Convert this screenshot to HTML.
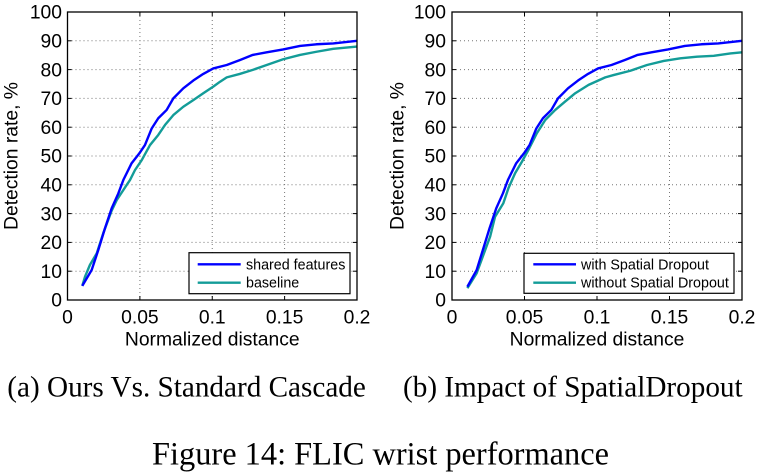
<!DOCTYPE html>
<html><head><meta charset="utf-8"><style>
html,body{margin:0;padding:0;background:#fff;}
svg{display:block;}
.t{font-family:"Liberation Sans",Arial,sans-serif;font-size:19.3px;fill:#000;}
.lg{font-family:"Liberation Sans",Arial,sans-serif;font-size:14.3px;fill:#000;}
.cap{font-family:"Liberation Serif","Times New Roman",serif;fill:#000;}
.grid{stroke:#777;stroke-width:1;stroke-dasharray:1 3;fill:none;}
.ax{stroke:#000;stroke-width:1.3;fill:none;}
.bl{stroke:#0000ff;stroke-width:2.4;fill:none;stroke-linejoin:round;vector-effect:non-scaling-stroke;}
.tl{stroke:#139c98;stroke-width:2.4;fill:none;stroke-linejoin:round;vector-effect:non-scaling-stroke;}
</style></head><body>
<svg width="758" height="473" viewBox="0 0 758 473" xmlns="http://www.w3.org/2000/svg">
<!-- LEFT PLOT -->
<g>
<g class="grid">
<line x1="139.9" y1="12" x2="139.9" y2="300"/><line x1="212.25" y1="12" x2="212.25" y2="300"/><line x1="284.6" y1="12" x2="284.6" y2="300"/>
<line x1="67.5" y1="271.2" x2="357" y2="271.2"/><line x1="67.5" y1="242.4" x2="357" y2="242.4"/><line x1="67.5" y1="213.6" x2="357" y2="213.6"/>
<line x1="67.5" y1="184.8" x2="357" y2="184.8"/><line x1="67.5" y1="156" x2="357" y2="156"/><line x1="67.5" y1="127.2" x2="357" y2="127.2"/>
<line x1="67.5" y1="98.4" x2="357" y2="98.4"/><line x1="67.5" y1="69.6" x2="357" y2="69.6"/><line x1="67.5" y1="40.8" x2="357" y2="40.8"/>
</g>
<g stroke="#000" stroke-width="1">
<line x1="139.9" y1="300" x2="139.9" y2="296"/><line x1="212.25" y1="300" x2="212.25" y2="296"/><line x1="284.6" y1="300" x2="284.6" y2="296"/>
<line x1="139.9" y1="12" x2="139.9" y2="16"/><line x1="212.25" y1="12" x2="212.25" y2="16"/><line x1="284.6" y1="12" x2="284.6" y2="16"/>
<line x1="67.5" y1="271.2" x2="71.5" y2="271.2"/><line x1="67.5" y1="242.4" x2="71.5" y2="242.4"/><line x1="67.5" y1="213.6" x2="71.5" y2="213.6"/><line x1="67.5" y1="184.8" x2="71.5" y2="184.8"/><line x1="67.5" y1="156" x2="71.5" y2="156"/><line x1="67.5" y1="127.2" x2="71.5" y2="127.2"/><line x1="67.5" y1="98.4" x2="71.5" y2="98.4"/><line x1="67.5" y1="69.6" x2="71.5" y2="69.6"/><line x1="67.5" y1="40.8" x2="71.5" y2="40.8"/>
<line x1="357" y1="271.2" x2="353" y2="271.2"/><line x1="357" y1="242.4" x2="353" y2="242.4"/><line x1="357" y1="213.6" x2="353" y2="213.6"/><line x1="357" y1="184.8" x2="353" y2="184.8"/><line x1="357" y1="156" x2="353" y2="156"/><line x1="357" y1="127.2" x2="353" y2="127.2"/><line x1="357" y1="98.4" x2="353" y2="98.4"/><line x1="357" y1="69.6" x2="353" y2="69.6"/><line x1="357" y1="40.8" x2="353" y2="40.8"/>
</g>
<g transform="translate(67.5,300) scale(1447.5,-2.88)">
<polyline class="tl" points="0.0102,4.9 0.0121,8.1 0.0155,12.2 0.0202,16.2 0.0247,23.2 0.0305,31 0.034,34.7 0.0386,38.2 0.0432,41.7 0.0466,45.1 0.0513,48.6 0.057,53.8 0.0627,57.3 0.0674,60.8 0.0731,64.2 0.08,67.1 0.0869,69.4 0.0938,71.8 0.1007,74.1 0.1054,75.8 0.11,77.3 0.119,78.5 0.128,79.9 0.1376,81.6 0.149,83.6 0.1606,85.1 0.172,86.2 0.1836,87.2 0.2,88"/>
<polyline class="bl" points="0.0102,4.9 0.0167,10.4 0.0213,17.4 0.0259,24.9 0.0305,31.8 0.0351,37 0.0386,41.7 0.0443,47.5 0.0496,50.9 0.0535,53.8 0.0582,59.6 0.0627,63.1 0.0685,66 0.0731,70 0.08,73.5 0.0869,76.2 0.0938,78.5 0.1007,80.4 0.11,81.6 0.119,83.3 0.128,85.1 0.1376,86 0.149,87 0.1606,88.2 0.172,88.8 0.1836,89.1 0.2,90"/>
</g>
<rect class="ax" x="67.5" y="12" width="289.5" height="288"/>
<g class="t" text-anchor="end">
<text x="62" y="306.7">0</text><text x="62" y="277.9">10</text><text x="62" y="249.1">20</text><text x="62" y="220.3">30</text><text x="62" y="191.5">40</text><text x="62" y="162.7">50</text><text x="62" y="133.9">60</text><text x="62" y="105.1">70</text><text x="62" y="76.3">80</text><text x="62" y="47.5">90</text><text x="62" y="18.7">100</text>
</g>
<g class="t" text-anchor="middle">
<text x="67.5" y="323.5">0</text><text x="139.9" y="323.5">0.05</text><text x="212.25" y="323.5">0.1</text><text x="284.6" y="323.5">0.15</text><text x="357" y="323.5">0.2</text>
<text x="212.25" y="345.3">Normalized distance</text>
<text transform="translate(17.7,156) rotate(-90)">Detection rate, %</text>
</g>
<rect x="189" y="252.7" width="161" height="41" fill="#fff" stroke="#000" stroke-width="1.2"/>
<line x1="197.7" y1="264.3" x2="240.7" y2="264.3" stroke="#0000ff" stroke-width="2.4"/>
<line x1="197.7" y1="282.7" x2="240.7" y2="282.7" stroke="#139c98" stroke-width="2.4"/>
<text class="lg" x="246" y="269.3">shared features</text>
<text class="lg" x="246" y="287.7">baseline</text>
</g>

<!-- RIGHT PLOT -->
<g>
<g class="grid">
<line x1="524.5" y1="12" x2="524.5" y2="300"/><line x1="597" y1="12" x2="597" y2="300"/><line x1="669.5" y1="12" x2="669.5" y2="300"/>
<line x1="452" y1="271.2" x2="742" y2="271.2"/><line x1="452" y1="242.4" x2="742" y2="242.4"/><line x1="452" y1="213.6" x2="742" y2="213.6"/>
<line x1="452" y1="184.8" x2="742" y2="184.8"/><line x1="452" y1="156" x2="742" y2="156"/><line x1="452" y1="127.2" x2="742" y2="127.2"/>
<line x1="452" y1="98.4" x2="742" y2="98.4"/><line x1="452" y1="69.6" x2="742" y2="69.6"/><line x1="452" y1="40.8" x2="742" y2="40.8"/>
</g>
<g stroke="#000" stroke-width="1">
<line x1="524.5" y1="300" x2="524.5" y2="296"/><line x1="597" y1="300" x2="597" y2="296"/><line x1="669.5" y1="300" x2="669.5" y2="296"/>
<line x1="524.5" y1="12" x2="524.5" y2="16"/><line x1="597" y1="12" x2="597" y2="16"/><line x1="669.5" y1="12" x2="669.5" y2="16"/>
<line x1="452" y1="271.2" x2="456" y2="271.2"/><line x1="452" y1="242.4" x2="456" y2="242.4"/><line x1="452" y1="213.6" x2="456" y2="213.6"/><line x1="452" y1="184.8" x2="456" y2="184.8"/><line x1="452" y1="156" x2="456" y2="156"/><line x1="452" y1="127.2" x2="456" y2="127.2"/><line x1="452" y1="98.4" x2="456" y2="98.4"/><line x1="452" y1="69.6" x2="456" y2="69.6"/><line x1="452" y1="40.8" x2="456" y2="40.8"/>
<line x1="742" y1="271.2" x2="738" y2="271.2"/><line x1="742" y1="242.4" x2="738" y2="242.4"/><line x1="742" y1="213.6" x2="738" y2="213.6"/><line x1="742" y1="184.8" x2="738" y2="184.8"/><line x1="742" y1="156" x2="738" y2="156"/><line x1="742" y1="127.2" x2="738" y2="127.2"/><line x1="742" y1="98.4" x2="738" y2="98.4"/><line x1="742" y1="69.6" x2="738" y2="69.6"/><line x1="742" y1="40.8" x2="738" y2="40.8"/>
</g>
<g transform="translate(452,300) scale(1450,-2.88)">
<polyline class="tl" points="0.0106,4.1 0.017,9.3 0.0216,15.6 0.0263,22 0.0297,28.9 0.0354,33.6 0.0389,38.8 0.0435,44 0.0482,48 0.0527,52.1 0.0585,57.9 0.0643,62.5 0.0712,66 0.078,68.9 0.085,71.8 0.0942,74.7 0.1057,77.3 0.1114,78.1 0.123,79.6 0.1345,81.6 0.146,83 0.1575,83.9 0.169,84.5 0.1805,84.8 0.192,85.6 0.2,86"/>
<polyline class="bl" points="0.0106,4.6 0.017,10.4 0.0213,17.4 0.0259,24.9 0.0305,31.8 0.0351,37 0.0386,41.7 0.0443,47.5 0.0496,50.9 0.0535,53.8 0.0582,59.6 0.0627,63.1 0.0685,66 0.0731,70 0.08,73.5 0.0869,76.2 0.0938,78.5 0.1007,80.4 0.11,81.6 0.119,83.3 0.128,85.1 0.1376,86 0.149,87 0.1606,88.2 0.172,88.8 0.1836,89.1 0.2,90"/>
</g>
<rect class="ax" x="452" y="12" width="290" height="288"/>
<g class="t" text-anchor="end">
<text x="446" y="306.7">0</text><text x="446" y="277.9">10</text><text x="446" y="249.1">20</text><text x="446" y="220.3">30</text><text x="446" y="191.5">40</text><text x="446" y="162.7">50</text><text x="446" y="133.9">60</text><text x="446" y="105.1">70</text><text x="446" y="76.3">80</text><text x="446" y="47.5">90</text><text x="446" y="18.7">100</text>
</g>
<g class="t" text-anchor="middle">
<text x="452" y="323.5">0</text><text x="524.5" y="323.5">0.05</text><text x="597" y="323.5">0.1</text><text x="669.5" y="323.5">0.15</text><text x="742" y="323.5">0.2</text>
<text x="597" y="345.3">Normalized distance</text>
<text transform="translate(403.3,156) rotate(-90)">Detection rate, %</text>
</g>
<rect x="524" y="253.3" width="210" height="40" fill="#fff" stroke="#000" stroke-width="1.2"/>
<line x1="533.3" y1="264.3" x2="576" y2="264.3" stroke="#0000ff" stroke-width="2.4"/>
<line x1="533.3" y1="282.7" x2="576" y2="282.7" stroke="#139c98" stroke-width="2.4"/>
<text class="lg" x="581" y="269.3">with Spatial Dropout</text>
<text class="lg" x="581" y="287.7">without Spatial Dropout</text>
</g>

<!-- CAPTIONS -->
<text class="cap" x="7.3" y="396.7" font-size="29.2">(a) Ours Vs. Standard Cascade</text>
<text class="cap" x="403" y="396.7" font-size="29.2">(b) Impact of SpatialDropout</text>
<text class="cap" x="380.5" y="464.3" font-size="32.4" text-anchor="middle">Figure 14: FLIC wrist performance</text>
</svg>
</body></html>
